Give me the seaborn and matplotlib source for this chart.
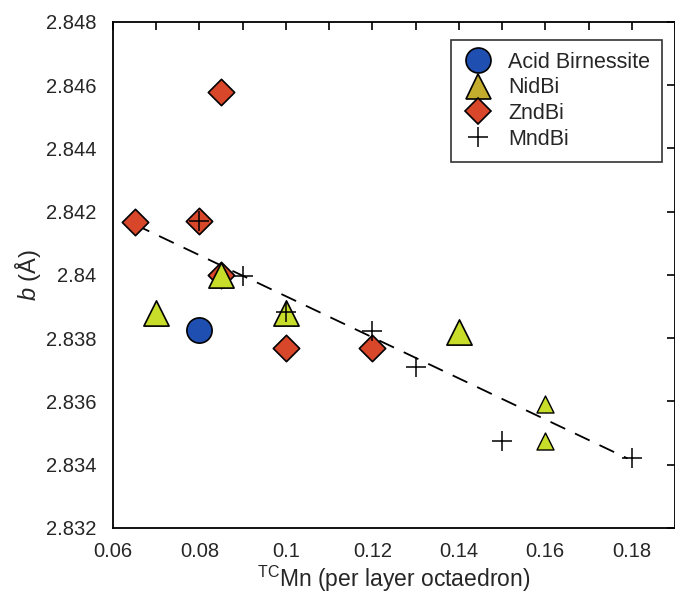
import numpy as np
import pandas as pd
import seaborn as sns
import matplotlib.pyplot as plt
from matplotlib.lines import Line2D
from matplotlib.ticker import MultipleLocator, FuncFormatter

# data
acid_x = [0.080]
acid_y = [2.83826]

nid_x = [0.070, 0.085, 0.100, 0.140]
nid_y = [2.8388, 2.8400, 2.8388, 2.8382]
nid_small_x = [0.160, 0.160]
nid_small_y = [2.83592, 2.83475]

znd_x = [0.065, 0.080, 0.085, 0.085, 0.100, 0.120]
znd_y = [2.84168, 2.84171, 2.84579, 2.8400, 2.83769, 2.83769]

mnd_x = [0.080, 0.090, 0.100, 0.120, 0.130, 0.150, 0.180]
mnd_y = [2.84171, 2.83997, 2.83883, 2.83823, 2.83709, 2.83475, 2.83421]

trend_x = [0.065, 0.179]
trend_y = [2.8416, 2.8342]

blue = '#1f4fb0'
green = '#c8dc2a'
gold = '#c4ac2c'
red = '#d9472a'

sns.set_style('white')
plt.rcParams['font.family'] = ['Liberation Sans', 'DejaVu Sans']
plt.rcParams['mathtext.fontset'] = 'custom'
plt.rcParams['mathtext.it'] = 'Liberation Sans:italic'
plt.rcParams['mathtext.rm'] = 'Liberation Sans'

fig = plt.figure(figsize=(6.75, 5.96), dpi=100)
ax = fig.add_axes([0.1674, 0.1141, 0.8326, 0.849])

# dashed trend line
sns.lineplot(x=trend_x, y=trend_y, ax=ax, color='black', lw=1.3,
             linestyle=(0, (9, 6)), zorder=2)

# Acid Birnessite
sns.scatterplot(x=acid_x, y=acid_y, ax=ax, marker='o', s=330, color=blue,
                edgecolor='black', linewidth=1.2, zorder=3)
# ZndBi
sns.scatterplot(x=znd_x, y=znd_y, ax=ax, marker='D', s=180, color=red,
                edgecolor='black', linewidth=1.2, zorder=3)
# NidBi
sns.scatterplot(x=nid_x, y=nid_y, ax=ax, marker='^', s=330, color=green,
                edgecolor='black', linewidth=1.2, zorder=4)
sns.scatterplot(x=nid_small_x, y=nid_small_y, ax=ax, marker='^', s=150, color=green,
                edgecolor='black', linewidth=1.0, zorder=4)
# MndBi
sns.scatterplot(x=mnd_x, y=mnd_y, ax=ax, marker='+', s=200, color='black',
                linewidth=1.1, zorder=5)

ax.set_xlim(0.06, 0.19)
ax.set_ylim(2.832, 2.848)
ax.xaxis.set_major_locator(MultipleLocator(0.02))
ax.xaxis.set_minor_locator(MultipleLocator(0.01))
ax.yaxis.set_major_locator(MultipleLocator(0.002))
fmt = FuncFormatter(lambda v, p: '%g' % round(v, 4))
ax.xaxis.set_major_formatter(fmt)
ax.yaxis.set_major_formatter(fmt)
ax.tick_params(which='both', direction='in', top=True, right=True,
               length=6, width=1.2, labelsize=14.5, color='black')
ax.tick_params(axis='x', pad=10)
ax.tick_params(axis='y', pad=12)
for s in ax.spines.values():
    s.set_color('black')
    s.set_linewidth(1.3)

ax.set_xlabel(r'$^{\mathrm{TC}}$Mn (per layer octaedron)', fontsize=16.5, labelpad=2)
ax.set_ylabel(r'$b$ (Å)', fontsize=17, labelpad=2)

handles = [
    Line2D([], [], marker='o', ls='', ms=18, mfc=blue, mec='black', mew=1.2),
    Line2D([], [], marker='^', ls='', ms=18, mfc=gold, mec='black', mew=1.2),
    Line2D([], [], marker='D', ls='', ms=13, mfc=red, mec='black', mew=1.2),
    Line2D([], [], marker='+', ls='', ms=15, color='black', mew=1.1),
]
labels = ['Acid Birnessite', 'NidBi', 'ZndBi', 'MndBi']
leg = ax.legend(handles, labels, loc='upper right', bbox_to_anchor=(0.977, 0.965),
                fontsize=15.5, frameon=True, fancybox=False, edgecolor='black',
                handletextpad=0.7, labelspacing=0.22, borderpad=0.55,
                handlelength=1.4, borderaxespad=0)
leg.get_frame().set_linewidth(1.2)

fig.savefig('out.png', dpi=100)
